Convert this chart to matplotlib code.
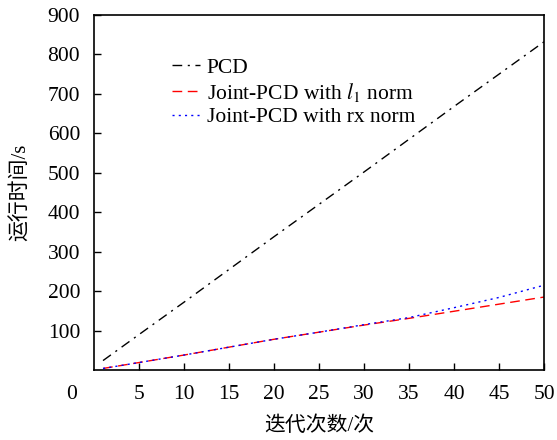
import numpy as np
import matplotlib.pyplot as plt

plt.rcParams['font.family'] = ['Liberation Serif', 'Noto Sans CJK SC']
plt.rcParams['mathtext.fontset'] = 'stix'

# iteration counts and running time (s) for each method
iters = [1, 5, 10, 15, 20, 25, 30, 35, 40, 45, 50]
pcd = [24, 90, 172, 255, 338, 420, 502, 585, 668, 750, 832]
joint_l1 = [4, 19, 38, 58, 78, 96, 114, 131, 149, 167, 185]
joint_rx = [4, 19, 38, 58, 78, 96, 115, 133, 158, 184, 215]

fig = plt.figure(figsize=(5.57, 4.40), dpi=100)
ax = fig.add_axes([0.1688, 0.159, 0.8079, 0.807])

ax.plot(iters, pcd, color='black', lw=1.0, dashes=(7, 4, 1.5, 4), label='PCD')
ax.plot(iters, joint_l1, color='red', lw=1.0, dashes=(7, 4), label='Joint-PCD with $l_1$ norm')
ax.plot(iters, joint_rx, color='blue', lw=1.0, dashes=(1.5, 3), label='Joint-PCD with rx norm')

ax.set_xlim(0, 50)
ax.set_ylim(0, 900)
ax.set_xticks(np.arange(5, 51, 5))
ax.set_yticks(np.arange(100, 901, 100))
ax.tick_params(direction='in', length=5, width=1, labelsize=15.5, top=False, right=False)
ax.tick_params(axis='y', pad=10)
ax.tick_params(axis='x', pad=11)
for s in ax.spines.values():
    s.set_linewidth(1.2)

# shared origin label
ax.annotate('0', xy=(0, 0), xycoords='data', xytext=(-16, -11),
            textcoords='offset points', ha='center', va='top', fontsize=15.5)

ax.set_xlabel('迭代次数/次', fontsize=15, labelpad=9)
ax.set_ylabel('运行时间/s', fontsize=15, labelpad=12)

ax.legend(loc='upper left', bbox_to_anchor=(0.15, 0.91), frameon=False, fontsize=15.5,
          handlelength=1.3, handletextpad=0.3, labelspacing=0.15, borderpad=0)

fig.savefig('out.png', dpi=100)
